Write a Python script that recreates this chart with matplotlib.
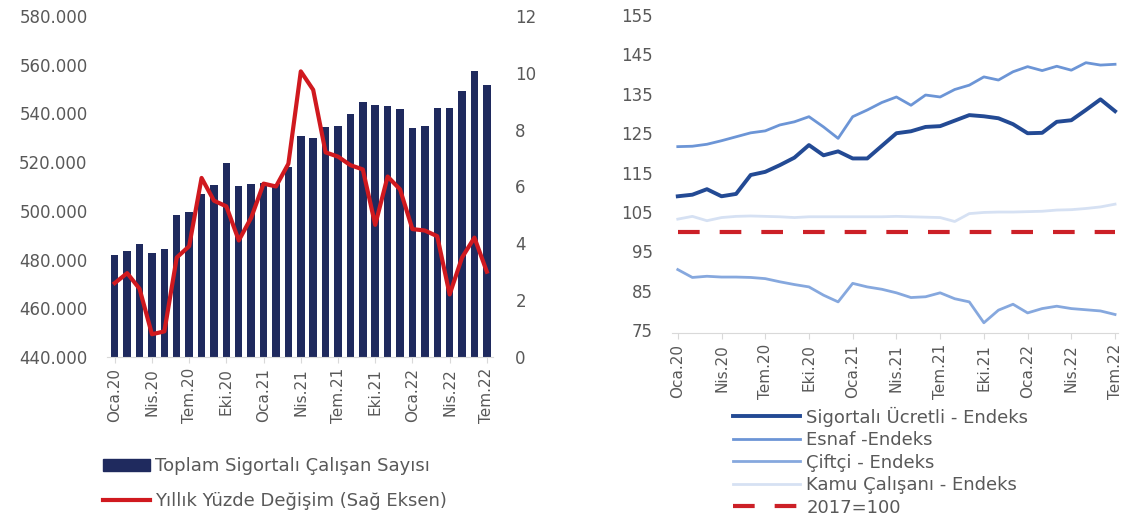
import matplotlib
matplotlib.use("Agg")
import matplotlib.pyplot as plt
from matplotlib.lines import Line2D
from matplotlib.patches import Patch
from matplotlib.ticker import FuncFormatter, MultipleLocator

# months Oca.20 .. Tem.22
months = ["Oca.20", "Şub.20", "Mar.20", "Nis.20", "May.20", "Haz.20", "Tem.20", "Ağu.20",
          "Eyl.20", "Eki.20", "Kas.20", "Ara.20", "Oca.21", "Şub.21", "Mar.21", "Nis.21",
          "May.21", "Haz.21", "Tem.21", "Ağu.21", "Eyl.21", "Eki.21", "Kas.21", "Ara.21",
          "Oca.22", "Şub.22", "Mar.22", "Nis.22", "May.22", "Haz.22", "Tem.22"]

# left panel
toplam_sigortali = [481900, 483500, 486300, 482600, 484300, 498300, 499600, 507000,
                    510600, 519500, 510200, 511000, 511300, 511000, 518000, 530600,
                    530100, 534300, 534800, 539600, 544600, 543500, 543000, 541700,
                    533900, 534800, 542400, 542400, 549200, 557600, 551500]
yillik_degisim = [2.6, 2.95, 2.4, 0.8, 0.9, 3.5, 3.9, 6.3, 5.5, 5.3, 4.1, 4.9,
                  6.1, 6.0, 6.8, 10.05, 9.4, 7.2, 7.05, 6.75, 6.6, 4.65, 6.35, 5.9,
                  4.5, 4.45, 4.25, 2.2, 3.5, 4.2, 3.0]

# right panel (2017=100)
sigortali_ucretli = [109.0, 109.4, 110.8, 109.0, 109.6, 114.4, 115.2, 116.9, 118.8, 122.0,
                     119.4, 120.4, 118.6, 118.6, 121.8, 125.0, 125.5, 126.6, 126.8, 128.2,
                     129.6, 129.3, 128.8, 127.3, 125.0, 125.1, 127.9, 128.3, 130.9, 133.6, 130.6]
esnaf = [121.6, 121.7, 122.2, 123.1, 124.1, 125.1, 125.6, 127.1, 127.9, 129.2,
         126.6, 123.7, 129.2, 130.9, 132.8, 134.2, 132.1, 134.7, 134.2, 136.1,
         137.2, 139.3, 138.5, 140.6, 141.9, 140.9, 142.0, 141.0, 142.9, 142.3, 142.5]
ciftci = [90.4, 88.4, 88.7, 88.5, 88.5, 88.4, 88.1, 87.3, 86.6, 86.0,
          83.9, 82.2, 86.9, 86.0, 85.4, 84.5, 83.3, 83.5, 84.5, 83.0,
          82.2, 76.9, 80.1, 81.6, 79.4, 80.5, 81.1, 80.5, 80.2, 79.9, 79.0]
kamu = [103.2, 103.9, 102.8, 103.6, 103.9, 104.0, 103.9, 103.8, 103.6, 103.8,
        103.8, 103.8, 103.8, 103.8, 103.8, 103.9, 103.8, 103.7, 103.6, 102.6,
        104.6, 104.9, 105.0, 105.0, 105.1, 105.2, 105.5, 105.6, 105.9, 106.3, 107.0]
baz_2017 = [100] * len(months)

NAVY = "#1F2A5E"
RED = "#D0191F"
GRAY_TXT = "#595959"
AXIS_GRAY = "#D9D9D9"

x = list(range(len(months)))
tick_pos = x[::3]
tick_lab = months[::3]

fig = plt.figure(figsize=(11.28, 5.2), dpi=100)
fig.patch.set_facecolor("white")

# ---------- left: bars + yearly change ----------
ax1 = fig.add_axes([0.0949, 0.3135, 0.3422, 0.6558])
ax1.bar(x, toplam_sigortali, width=0.6, color=NAVY, zorder=2)
ax1.set_ylim(440000, 580000)
ax1.set_xlim(-0.62, 30.5)
ax1.yaxis.set_major_locator(MultipleLocator(20000))
ax1.yaxis.set_major_formatter(FuncFormatter(lambda v, p: f"{int(v):,}".replace(",", ".")))
ax1.set_xticks(tick_pos)
ax1.set_xticklabels(tick_lab, rotation=90, fontsize=11, color=GRAY_TXT)
ax1.tick_params(axis="y", length=0, pad=14, labelsize=12, labelcolor=GRAY_TXT)
ax1.tick_params(axis="x", length=4, color=AXIS_GRAY, pad=4)
for s in ("left", "right", "top"):
    ax1.spines[s].set_visible(False)
ax1.spines["bottom"].set_color(AXIS_GRAY)

ax1r = ax1.twinx()
ax1r.plot(x, yillik_degisim, color=RED, lw=3, zorder=3)
ax1r.set_ylim(0, 12)
ax1r.yaxis.set_major_locator(MultipleLocator(2))
ax1r.tick_params(axis="y", length=0, pad=16, labelsize=12, labelcolor=GRAY_TXT)
for s in ("left", "right", "top", "bottom"):
    ax1r.spines[s].set_visible(False)

fig.legend(handles=[Patch(facecolor=NAVY, edgecolor=NAVY),
                    Line2D([0], [0], color=RED, lw=3)],
           labels=["Toplam Sigortalı Çalışan Sayısı", "Yıllık Yüzde Değişim (Sağ Eksen)"],
           loc="center left", bbox_to_anchor=(0.0913, 0.0702), frameon=False,
           fontsize=13, labelcolor=GRAY_TXT, handlelength=2.6, handleheight=0.6,
           handletextpad=0.3, labelspacing=0.9, borderpad=0, borderaxespad=0)

# ---------- right: indices ----------
ax2 = fig.add_axes([0.5957, 0.3596, 0.3954, 0.6115])
ax2.plot(x, kamu, color="#D6E1F3", lw=2)
ax2.plot(x, ciftci, color="#86A8DE", lw=2)
ax2.plot(x, esnaf, color="#6C95D6", lw=2)
ax2.plot(x, sigortali_ucretli, color="#234A94", lw=2.8)
ax2.plot(x, baz_2017, color="#CC2027", lw=3, dashes=(5.2, 4.8))
ax2.set_ylim(74.3, 155)
ax2.set_xlim(-0.4, 30.2)
ax2.set_yticks(range(75, 156, 10))
ax2.set_xticks(tick_pos)
ax2.set_xticklabels(tick_lab, rotation=90, fontsize=11, color=GRAY_TXT)
ax2.tick_params(axis="y", length=0, pad=14, labelsize=12, labelcolor=GRAY_TXT)
ax2.tick_params(axis="x", length=4, color=AXIS_GRAY, pad=4)
for s in ("left", "right", "top"):
    ax2.spines[s].set_visible(False)
ax2.spines["bottom"].set_color(AXIS_GRAY)

fig.legend(handles=[Line2D([0], [0], color="#234A94", lw=2.8),
                    Line2D([0], [0], color="#6C95D6", lw=2),
                    Line2D([0], [0], color="#86A8DE", lw=2),
                    Line2D([0], [0], color="#D6E1F3", lw=2),
                    Line2D([0], [0], color="#CC2027", lw=3, dashes=(5.2, 4.8))],
           labels=["Sigortalı Ücretli - Endeks", "Esnaf -Endeks", "Çiftçi - Endeks",
                   "Kamu Çalışanı - Endeks", "2017=100"],
           loc="center left", bbox_to_anchor=(0.65, 0.1125), frameon=False,
           fontsize=13, labelcolor=GRAY_TXT, handlelength=3.7,
           handletextpad=0.35, labelspacing=0.25, borderpad=0, borderaxespad=0)

fig.savefig("out.png", dpi=100, facecolor="white")
